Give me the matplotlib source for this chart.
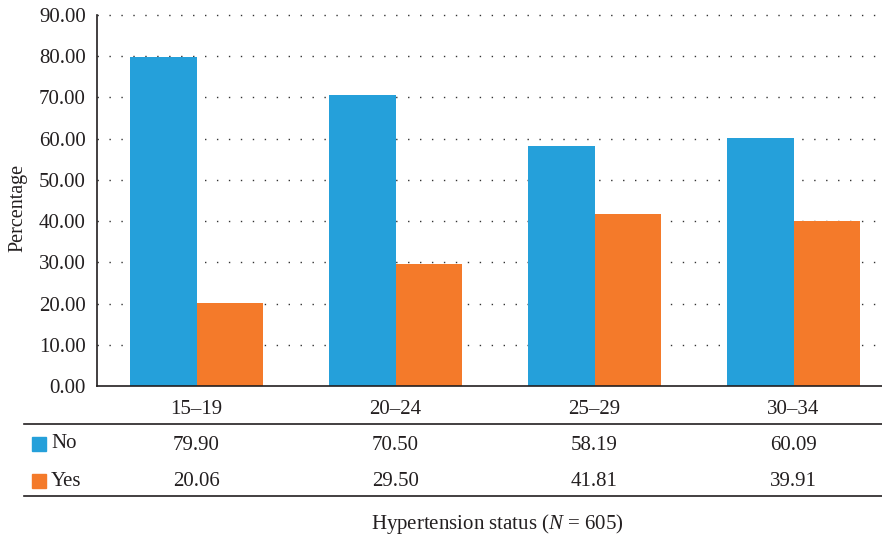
import matplotlib
matplotlib.use("Agg")
import matplotlib.pyplot as plt
import matplotlib.transforms as mtransforms
from matplotlib.lines import Line2D
from matplotlib.patches import Rectangle
import numpy as np

plt.rcParams['font.family'] = ['Liberation Serif', 'DejaVu Serif']
plt.rcParams['mathtext.fontset'] = 'custom'
plt.rcParams['mathtext.rm'] = 'Liberation Serif'
plt.rcParams['mathtext.it'] = 'Liberation Serif:italic'

# data
groups = ['15\u201319', '20\u201324', '25\u201329', '30\u201334']
no_vals = [79.90, 70.50, 58.19, 60.09]
yes_vals = [20.06, 29.50, 41.81, 39.91]
yticks = [0, 10, 20, 30, 40, 50, 60, 70, 80, 90]

blue = '#25a0da'
orange = '#f47a2a'
txt = '#231f20'
W, H = 882, 539
fs = 15

fig = plt.figure(figsize=(8.82, 5.39), dpi=100)
ax = fig.add_axes([97 / W, 1 - 386 / H, 785 / W, 371 / H])

x = np.arange(len(groups))
bw = 0.335
ax.bar(x - bw / 2, no_vals, bw, color=blue, zorder=2)
ax.bar(x + bw / 2, yes_vals, bw, color=orange, zorder=2)

ax.set_xlim(-0.5, -0.5 + 785 / 199)
ax.set_ylim(0, 90)
ax.set_yticks(yticks)
ax.set_yticklabels([f'{v:.2f}' for v in yticks], fontsize=fs, color=txt)
ax.tick_params(axis='y', length=0, pad=8)
ax.set_xticks([])

for v in yticks[1:]:
    ax.axhline(v, color='#333333', lw=1.0, linestyle=(0, (1, 7.6)), zorder=1, clip_on=False)

for s in ['top', 'right']:
    ax.spines[s].set_visible(False)
ax.spines['left'].set_color('#231f20')
ax.spines['left'].set_linewidth(1.2)
ax.spines['bottom'].set_color('#231f20')
ax.spines['bottom'].set_linewidth(1.2)
ax.spines['left'].set_zorder(3)

fig.text(18 / W, 1 - 208 / H, 'Percentage', rotation=90, ha='center', va='center',
         fontsize=14.5, color=txt)

# data table below the axes
tr = mtransforms.blended_transform_factory(ax.transData, fig.transFigure)
for i, g in enumerate(groups):
    ax.text(x[i], 1 - 410 / H, g, transform=tr, ha='center', va='center', fontsize=fs, color=txt)
    ax.text(x[i], 1 - 445 / H, f'{no_vals[i]:.2f}', transform=tr, ha='center', va='center', fontsize=fs, color=txt)
    ax.text(x[i], 1 - 482 / H, f'{yes_vals[i]:.2f}', transform=tr, ha='center', va='center', fontsize=fs, color=txt)

for yy in [424, 496]:
    fig.add_artist(Line2D([24 / W, 1.0], [1 - yy / H, 1 - yy / H], color='#231f20', lw=1.2))

for yc, lab, col in [(444, 'No', blue), (481, 'Yes', orange)]:
    fig.add_artist(Rectangle((32 / W, 1 - (yc + 7) / H), 14 / W, 14 / H, color=col, transform=fig.transFigure))
    fig.text(51 / W, 1 - yc / H, lab, ha='left', va='center', fontsize=fs, color=txt)

fig.text(497 / W, 1 - 524 / H, 'Hypertension status ($N$ = 605)', ha='center', va='center', fontsize=fs, color=txt)

fig.savefig('out.png', dpi=100)
